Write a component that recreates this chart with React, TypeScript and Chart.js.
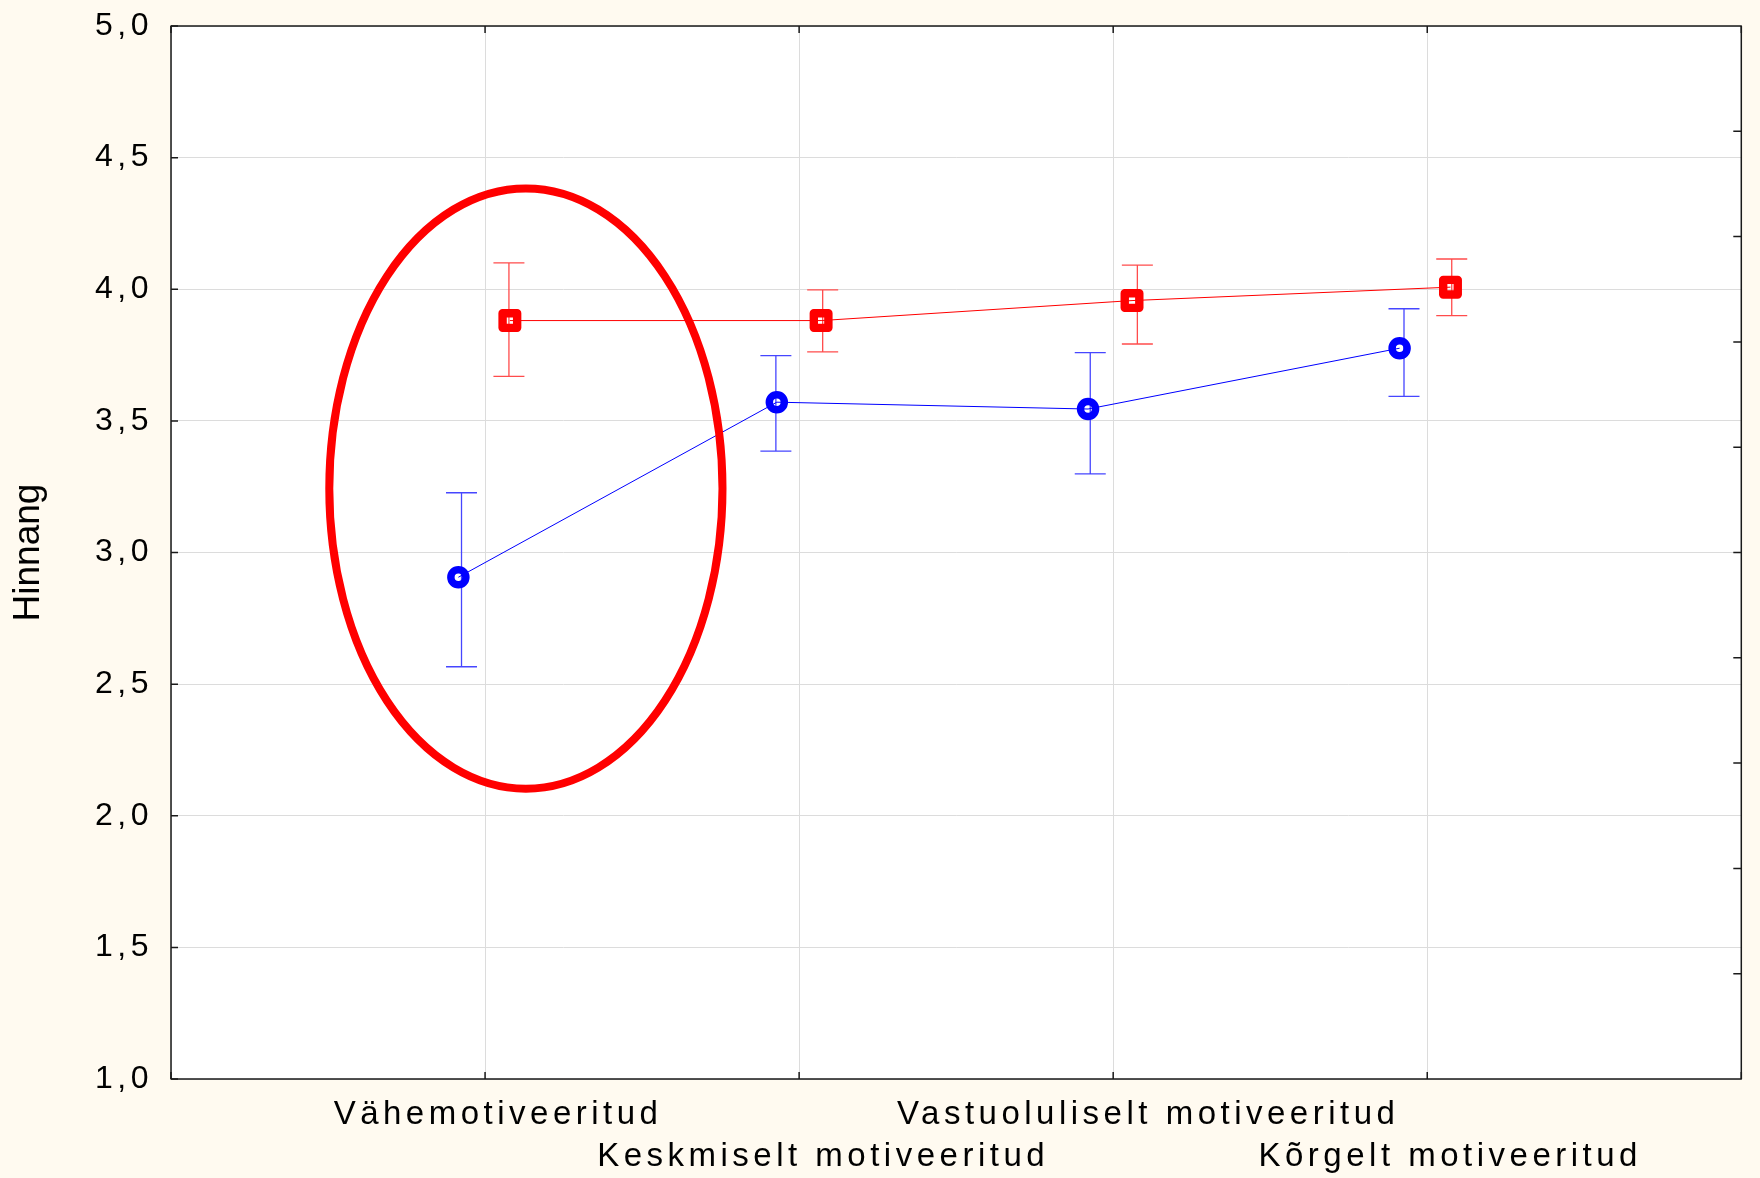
import React, { useEffect, useRef } from 'react';
import { Chart, registerables } from 'chart.js';

Chart.register(...registerables);

// ---------- data ----------
const categories = ['Vähemotiveeritud', 'Keskmiselt motiveeritud', 'Vastuoluliselt motiveeritud', 'Kõrgelt motiveeritud'];
const categoryRow = [0, 1, 0, 1]; // staggered label rows
const xTickValues = [0, 1, 2, 3, 4, 5];

const yTickValues = [1, 1.5, 2, 2.5, 3, 3.5, 4, 4.5, 5];
const yTickLabels = ['1,0', '1,5', '2,0', '2,5', '3,0', '3,5', '4,0', '4,5', '5,0'];
const rightMinorTicks = [1.4, 1.8, 2.2, 2.6, 3.0, 3.4, 3.8, 4.2, 4.6];

// blue series (circles)
const blueX = [0.915, 1.929, 2.92, 3.912];
const blueMean = [2.906, 3.571, 3.545, 3.776];
const blueUpper = [3.227, 3.748, 3.759, 3.926];
const blueLower = [2.566, 3.385, 3.299, 3.593];
const blueErrX = [0.925, 1.926, 2.927, 3.926];

// red series (squares)
const redX = [1.079, 2.07, 3.06, 4.074];
const redMean = [3.881, 3.881, 3.957, 4.008];
const redUpper = [4.1, 3.998, 4.092, 4.115];
const redLower = [3.669, 3.762, 3.792, 3.9];
const redErrX = [1.076, 2.075, 3.077, 4.078];

// highlight ellipse (data units)
const highlightCenter = [1.13, 3.243];
const highlightRadii = [0.626, 1.14];

// styling: per-label horizontal nudge (px) of the x tick labels
const X_LABEL_NUDGE = [0, -7, 4, 15, 3, 0];

const FONT = "'Liberation Sans', Arial, Helvetica, sans-serif";

const chartPlugin = {
  id: 'statisticaLook',
  afterLayout(chart: any) {
    const patch = (scale: any, ls: string, nudge?: number[]) => {
      if (!scale || scale.__lsPatched) return;
      const orig = scale.drawLabels;
      scale.drawLabels = function (area: any) {
        const c = this.ctx;
        const prev = c.letterSpacing;
        c.letterSpacing = ls;
        orig.call(this, area);
        c.letterSpacing = prev || '0px';
      };
      if (nudge) {
        const origItems = scale.getLabelItems;
        scale.getLabelItems = function (area: any) {
          const items = origItems.call(this, area);
          return items.map((it: any, i: number) => {
            const t = it.options.translation;
            return {
              ...it,
              options: { ...it.options, translation: [t[0] + (nudge[i] || 0), t[1]] },
            };
          });
        };
      }
      scale.__lsPatched = true;
    };
    patch(chart.scales.x, '4.5px', X_LABEL_NUDGE);
    patch(chart.scales.y, '4.5px');
  },
  beforeDraw(chart: any) {
    const { ctx, chartArea: a } = chart;
    ctx.save();
    ctx.fillStyle = '#fffaf0';
    ctx.fillRect(0, 0, chart.width, chart.height);
    ctx.fillStyle = '#ffffff';
    ctx.fillRect(a.left, a.top, a.right - a.left, a.bottom - a.top);
    ctx.restore();
  },
  beforeDatasetsDraw(chart: any) {
    const { ctx } = chart;
    const xs = chart.scales.x;
    const ys = chart.scales.y;
    const drawBars = (ex: number[], lo: number[], hi: number[], color: string) => {
      ctx.save();
      ctx.strokeStyle = color;
      ctx.lineWidth = 1.3;
      ctx.beginPath();
      for (let i = 0; i < ex.length; i++) {
        const px = xs.getPixelForValue(ex[i]);
        const pl = ys.getPixelForValue(lo[i]);
        const ph = ys.getPixelForValue(hi[i]);
        ctx.moveTo(px, pl);
        ctx.lineTo(px, ph);
        ctx.moveTo(px - 15.5, ph);
        ctx.lineTo(px + 15.5, ph);
        ctx.moveTo(px - 15.5, pl);
        ctx.lineTo(px + 15.5, pl);
      }
      ctx.stroke();
      ctx.restore();
    };
    drawBars(blueErrX, blueLower, blueUpper, '#4646ff');
    drawBars(redErrX, redLower, redUpper, '#ff4c4c');
    ctx.lineJoin = 'round';
  },
  afterDatasetsDraw(chart: any) {
    const { ctx, chartArea: a } = chart;
    const xs = chart.scales.x;
    const ys = chart.scales.y;
    ctx.save();
    // highlight ellipse
    const cx = xs.getPixelForValue(highlightCenter[0]);
    const cy = ys.getPixelForValue(highlightCenter[1]);
    const rx = Math.abs(xs.getPixelForValue(highlightCenter[0] + highlightRadii[0]) - cx);
    const ry = Math.abs(ys.getPixelForValue(highlightCenter[1] + highlightRadii[1]) - cy);
    ctx.strokeStyle = '#ff0000';
    ctx.lineWidth = 8;
    ctx.beginPath();
    ctx.ellipse(cx, cy, rx, ry, 0, 0, Math.PI * 2);
    ctx.stroke();

    // frame
    ctx.strokeStyle = '#1a1a1a';
    ctx.lineWidth = 1.5;
    ctx.strokeRect(a.left, a.top, a.right - a.left, a.bottom - a.top);

    // inner tick marks
    ctx.lineWidth = 1.5;
    ctx.beginPath();
    for (const v of yTickValues) {
      const py = ys.getPixelForValue(v);
      ctx.moveTo(a.left, py);
      ctx.lineTo(a.left + 7, py);
    }
    for (const v of rightMinorTicks) {
      const py = ys.getPixelForValue(v);
      ctx.moveTo(a.right, py);
      ctx.lineTo(a.right - 8, py);
    }
    for (const v of xTickValues) {
      const px = xs.getPixelForValue(v);
      ctx.moveTo(px, a.top);
      ctx.lineTo(px, a.top + 7);
      ctx.moveTo(px, a.bottom);
      ctx.lineTo(px, a.bottom - 7);
    }
    ctx.stroke();
    ctx.restore();
  },
};

export default function App() {
  const canvasRef = useRef<HTMLCanvasElement | null>(null);

  useEffect(() => {
    document.body.style.margin = '0';
    document.body.style.overflow = 'hidden';
    const canvas = canvasRef.current;
    if (!canvas) return;

    const chart = new Chart(canvas, {
      type: 'line',
      data: {
        datasets: [
          {
            label: 'blue',
            data: blueX.map((x, i) => ({ x, y: blueMean[i] })),
            borderColor: '#0000ff',
            borderWidth: 1,
            tension: 0,
            pointStyle: 'circle',
            pointRadius: 7.5,
            pointBorderWidth: 7.5,
            pointBorderColor: '#0000ff',
            pointBackgroundColor: 'rgba(255,255,255,0)',
          },
          {
            label: 'red',
            data: redX.map((x, i) => ({ x, y: redMean[i] })),
            borderColor: '#ff0000',
            borderWidth: 1,
            tension: 0,
            pointStyle: 'rect',
            pointRadius: 10.3,
            pointBorderWidth: 8.4,
            pointBorderColor: '#ff0000',
            pointBackgroundColor: 'rgba(255,255,255,0)',
          },
        ],
      },
      options: {
        responsive: false,
        devicePixelRatio: 1,
        animation: false,
        events: [],
        layout: { padding: { top: 26, right: 10, bottom: 0, left: 0 } },
        plugins: {
          legend: { display: false },
          tooltip: { enabled: false },
        },
        scales: {
          x: {
            type: 'linear',
            min: 0,
            max: 5,
            afterBuildTicks: (s: any) => {
              s.ticks = xTickValues.map((v) => ({ value: v }));
            },
            afterFit: (s: any) => {
              s.height = 99;
              s.paddingLeft = 0;
              s.paddingRight = 0;
            },
            ticks: {
              autoSkip: false,
              maxRotation: 0,
              minRotation: 0,
              padding: 15,
              labelOffset: 20,
              color: '#000000',
              font: { family: FONT, size: 33, lineHeight: '42px' },
              callback: (value: any) => {
                const idx = Number(value) - 1;
                if (idx < 0 || idx >= categories.length) return '';
                return categoryRow[idx] === 0 ? [categories[idx], ''] : ['', categories[idx]];
              },
            },
            grid: { color: '#dcdcdc', lineWidth: 1, drawTicks: false },
            border: { display: false },
          },
          y: {
            type: 'linear',
            min: 1,
            max: 5,
            afterBuildTicks: (s: any) => {
              s.ticks = yTickValues.map((v) => ({ value: v }));
            },
            afterFit: (s: any) => {
              s.width = 171;
              s.paddingTop = 0;
              s.paddingBottom = 0;
            },
            ticks: {
              padding: 18,
              color: '#000000',
              font: { family: FONT, size: 32 },
              callback: (_v: any, index: number) => yTickLabels[index],
            },
            grid: { color: '#dcdcdc', lineWidth: 1, drawTicks: false },
            border: { display: false },
            title: {
              display: true,
              text: 'Hinnang',
              color: '#000000',
              font: { family: FONT, size: 37 },
              padding: { top: 7, bottom: 0 },
            },
          },
        },
      },
      plugins: [chartPlugin],
    } as any);

    return () => chart.destroy();
  }, []);

  return (
    <div style={{ position: 'absolute', left: 0, top: 0, width: 1760, height: 1178, background: '#fffaf0' }}>
      <canvas ref={canvasRef} width={1760} height={1178} style={{ display: 'block' }} />
    </div>
  );
}
